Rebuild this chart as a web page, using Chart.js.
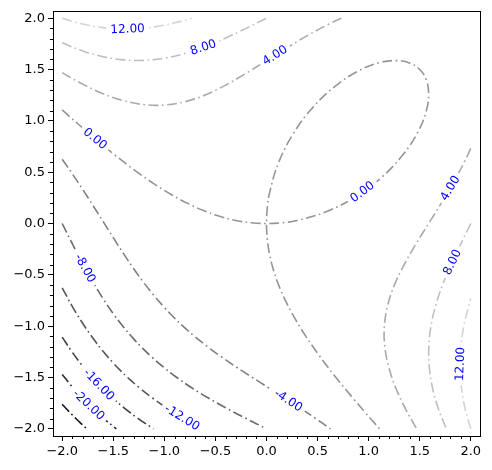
<!DOCTYPE html>
<html>
<head>
<meta charset="utf-8">
<script src="https://cdn.jsdelivr.net/npm/chart.js@4/dist/chart.umd.min.js"></script>
<style>
  html, body { margin: 0; padding: 0; background: #fff; }
  #wrap { width: 492px; height: 470px; }
</style>
</head>
<body>
<div id="wrap"><canvas id="c" width="492" height="470"></canvas></div>
<script>
// contour levels and the traced contour paths (x, y pairs)
const levels = [-24, -20, -16, -12, -8, -4, 0, 4, 8, 12];

const cM24 = [[-2,-1.760],[-1.95,-1.814],[-1.9,-1.866],[-1.882,-1.882],[-1.866,-1.9],[-1.814,-1.95],[-1.760,-2]];
const cM20 = [[-2,-1.470],[-1.9,-1.594],[-1.8,-1.705],[-1.754,-1.754],[-1.705,-1.8],[-1.594,-1.9],[-1.470,-2]];
const cM16 = [[-2,-1.107],[-1.9,-1.256],[-1.8,-1.388],[-1.7,-1.505],[-1.605,-1.605],[-1.505,-1.7],[-1.388,-1.8],[-1.256,-1.9],[-1.107,-2]];
const cM12 = [[-2,-0.626],[-1.9,-0.809],[-1.8,-0.972],[-1.7,-1.116],[-1.6,-1.245],[-1.5,-1.359],[-1.431,-1.431],
              [-1.359,-1.5],[-1.245,-1.6],[-1.116,-1.7],[-0.972,-1.8],[-0.809,-1.9],[-0.626,-2]];
const cM8 = [[-2,0],[-1.9,-0.199],[-1.8,-0.391],[-1.7,-0.569],[-1.6,-0.732],[-1.5,-0.878],[-1.4,-1.008],[-1.3,-1.124],
             [-1.214,-1.214],[-1.124,-1.3],[-1.008,-1.4],[-0.878,-1.5],[-0.732,-1.6],[-0.569,-1.7],[-0.391,-1.8],[-0.199,-1.9],[0,-2]];
const cM4 = [[-2,0.626],[-1.9,0.482],[-1.8,0.333],[-1.7,0.178],[-1.6,0.020],[-1.5,-0.138],[-1.4,-0.293],[-1.3,-0.441],
             [-1.2,-0.578],[-1.1,-0.703],[-1.0,-0.818],[-0.911,-0.911],[-0.818,-1.0],[-0.703,-1.1],[-0.578,-1.2],
             [-0.441,-1.3],[-0.293,-1.4],[-0.138,-1.5],[0.020,-1.6],[0.178,-1.7],[0.333,-1.8],[0.482,-1.9],[0.626,-2]];
const c0 = [[-2,1.107],[-1.842,0.967],[-1.714,0.857],[-1.485,0.668],[-1.282,0.513],[-1.097,0.384],[-0.925,0.278],
            [-0.762,0.191],[-0.605,0.121],[-0.452,0.068],[-0.300,0.030],[-0.150,0.008],[0,0],[0.150,0.008],[0.300,0.030],
            [0.595,0.119],[0.876,0.263],[1.128,0.451],[1.333,0.667],[1.480,0.888],[1.564,1.095],[1.587,1.270],[1.562,1.405],
            [1.5,1.5],[1.405,1.562],[1.270,1.587],[1.095,1.564],[0.888,1.480],[0.667,1.333],[0.451,1.128],[0.263,0.876],
            [0.119,0.595],[0.030,0.300],[0.008,0.150],[0,0],[0.008,-0.150],[0.030,-0.300],[0.068,-0.452],[0.121,-0.605],
            [0.191,-0.762],[0.278,-0.925],[0.384,-1.097],[0.513,-1.282],[0.668,-1.485],[0.857,-1.714],[0.967,-1.842],[1.107,-2]];
const c4a = [[-2,1.470],[-1.8,1.358],[-1.6,1.265],[-1.4,1.197],[-1.2,1.158],[-1.0,1.154],[-0.8,1.186],[-0.6,1.252],
             [-0.4,1.348],[-0.2,1.463],[0,1.587],[0.2,1.712],[0.4,1.830],[0.6,1.937],[0.732,2]];
const c4b = [[2,0.732],[1.937,0.6],[1.830,0.4],[1.712,0.2],[1.587,0],[1.463,-0.2],[1.348,-0.4],[1.252,-0.6],
             [1.186,-0.8],[1.154,-1.0],[1.158,-1.2],[1.197,-1.4],[1.265,-1.6],[1.358,-1.8],[1.470,-2]];
const c8a = [[-2,1.760],[-1.8,1.681],[-1.6,1.625],[-1.4,1.594],[-1.2,1.589],[-1.0,1.610],[-0.8,1.656],[-0.6,1.723],
             [-0.4,1.807],[-0.2,1.901],[0,2]];
const c8b = [[2,0],[1.901,-0.2],[1.807,-0.4],[1.723,-0.6],[1.656,-0.8],[1.610,-1.0],[1.589,-1.2],[1.594,-1.4],
             [1.625,-1.6],[1.681,-1.8],[1.760,-2]];
const c12a = [[-2,2],[-1.9,1.969],[-1.8,1.943],[-1.6,1.908],[-1.4,1.894],[-1.2,1.902],[-1.0,1.932],[-0.8,1.980],[-0.732,2]];
const c12b = [[2,-2],[1.969,-1.9],[1.943,-1.8],[1.908,-1.6],[1.894,-1.4],[1.902,-1.2],[1.932,-1.0],[1.980,-0.8],[2,-0.732]];

// which path belongs to which level
const paths = [[-24, cM24], [-20, cM20], [-16, cM16], [-12, cM12], [-8, cM8], [-4, cM4],
               [0, c0], [4, c4a], [4, c4b], [8, c8a], [8, c8b], [12, c12a], [12, c12b]];

// inline labels: level and rough spot where it sits
const labelLevels = [12, 8, 4, 0, 0, 4, -8, -16, -20, -12, -4, 8, 12];
const labelX = [-1.36, -0.62, 0.078, -1.667, 0.948, 1.804, -1.758, -1.634, -1.732, -0.826, 0.225, 1.82, 1.895];
const labelY = [1.90, 1.72, 1.646, 0.839, 0.296, 0.341, -0.426, -1.564, -1.759, -1.89, -1.707, -0.378, -1.369];

const majorTicks = [-2, -1.5, -1, -0.5, 0, 0.5, 1, 1.5, 2];

// gray colormap, dark for low levels
const levelColors = ['#161616', '#2c2c2c', '#414141', '#565656', '#6b6b6b', '#808080', '#959595', '#aaaaaa', '#bfbfbf', '#d4d4d4'];

const FONT = '"DejaVu Sans", sans-serif';

function colorFor(lev) { return levelColors[levels.indexOf(lev)]; }
function fmtTick(v) { return (v < 0 ? '\u2212' : '') + Math.abs(v).toFixed(1); }

const datasets = paths.map(([lev, pts]) => ({
  level: lev,
  data: pts.map(p => ({ x: p[0], y: p[1] })),
  showLine: true,
  borderColor: colorFor(lev),
  borderWidth: 1.6,
  borderDash: [10, 3.5, 1.6, 3.5],
  pointRadius: 0,
  tension: 0.4,
  fill: false
}));

const frameAndMinor = {
  id: 'frameAndMinor',
  afterDraw(chart) {
    const { ctx, chartArea: a, scales: { x, y } } = chart;
    ctx.save();
    ctx.strokeStyle = '#000';
    ctx.lineWidth = 1;
    ctx.strokeRect(Math.round(a.left) + 0.5, Math.round(a.top) + 0.5,
                   Math.round(a.right - a.left), Math.round(a.bottom - a.top));
    ctx.beginPath();
    for (let i = -20; i <= 20; i++) {
      if (i % 5 === 0) continue;
      const px = Math.round(x.getPixelForValue(i / 10)) + 0.5;
      ctx.moveTo(px, Math.round(a.bottom));
      ctx.lineTo(px, Math.round(a.bottom) + 3);
      const py = Math.round(y.getPixelForValue(i / 10)) + 0.5;
      ctx.moveTo(Math.round(a.left), py);
      ctx.lineTo(Math.round(a.left) - 3, py);
    }
    ctx.stroke();
    ctx.restore();
  }
};

const contourLabels = {
  id: 'contourLabels',
  afterDatasetsDraw(chart) {
    const { ctx, scales: { x, y } } = chart;
    ctx.save();
    ctx.font = '12px ' + FONT;
    ctx.textAlign = 'center';
    ctx.textBaseline = 'middle';
    labelLevels.forEach((lev, i) => {
      const qx = x.getPixelForValue(labelX[i]), qy = y.getPixelForValue(labelY[i]);
      let best = null;
      chart.data.datasets.forEach(ds => {
        if (ds.level !== lev) return;
        const pts = ds.data.map(p => [x.getPixelForValue(p.x), y.getPixelForValue(p.y)]);
        for (let k = 0; k < pts.length - 1; k++) {
          const [x1, y1] = pts[k], [x2, y2] = pts[k + 1];
          const dx = x2 - x1, dy = y2 - y1, len2 = dx * dx + dy * dy;
          if (!len2) continue;
          let t = ((qx - x1) * dx + (qy - y1) * dy) / len2;
          t = Math.max(0, Math.min(1, t));
          const sx = x1 + t * dx, sy = y1 + t * dy;
          const d = Math.hypot(qx - sx, qy - sy);
          if (!best || d < best.d) best = { d, sx, sy, ang: Math.atan2(dy, dx) };
        }
      });
      if (!best) return;
      let ang = best.ang;
      if (ang >= Math.PI / 2 - 1e-6) ang -= Math.PI;
      if (ang < -Math.PI / 2 - 1e-6) ang += Math.PI;
      const txt = lev.toFixed(2);
      const w = ctx.measureText(txt).width;
      ctx.save();
      ctx.translate(best.sx, best.sy);
      ctx.rotate(ang);
      ctx.fillStyle = '#fff';
      ctx.fillRect(-w / 2 - 4, -5, w + 8, 10);
      ctx.fillStyle = '#0000ff';
      ctx.fillText(txt, 0, 0.5);
      ctx.restore();
    });
    ctx.restore();
  }
};

function axisOpts(min, max) {
  return {
    type: 'linear',
    min: min,
    max: max,
    afterBuildTicks: s => { s.ticks = majorTicks.map(v => ({ value: v })); },
    ticks: {
      callback: fmtTick,
      color: '#000',
      font: { family: FONT, size: 13 },
      padding: 3,
      autoSkip: false,
      maxRotation: 0,
      minRotation: 0
    },
    grid: { drawOnChartArea: false, drawTicks: true, tickLength: 5, tickColor: '#000', tickWidth: 1, color: '#000' },
    border: { display: false }
  };
}

const xOpts = axisOpts(-2.09, 2.09);
xOpts.afterFit = s => { s.height = 34; };
const yOpts = axisOpts(-2.07, 2.07);
yOpts.afterFit = s => { s.width = 53; };

new Chart(document.getElementById('c'), {
  type: 'scatter',
  data: { datasets },
  options: {
    responsive: false,
    animation: false,
    events: [],
    layout: { padding: { top: 11, right: 12, left: 0, bottom: 0 } },
    plugins: { legend: { display: false }, tooltip: { enabled: false } },
    scales: { x: xOpts, y: yOpts }
  },
  plugins: [contourLabels, frameAndMinor]
});
</script>
</body>
</html>
